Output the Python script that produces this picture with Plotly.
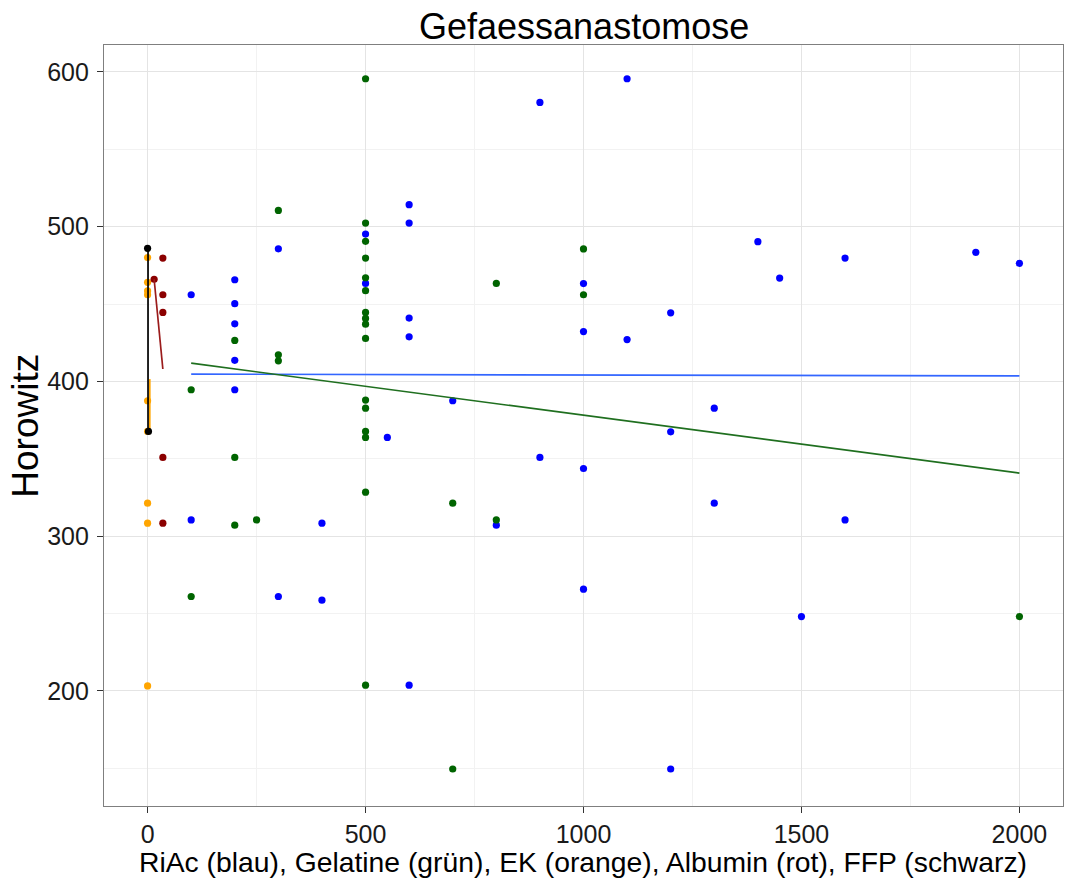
import plotly.graph_objects as go

# ---- data ----
riac_x = [100, 100, 200, 200, 200, 200, 200, 300, 300, 400, 400, 500, 500, 550,
          600, 600, 600, 600, 600, 700, 800, 900, 900, 1000, 1000, 1000, 1000,
          1100, 1100, 1200, 1200, 1200, 1300, 1300, 1400, 1450, 1500, 1600, 1600,
          1900, 2000]
riac_y = [456, 310.5, 465.7, 450.2, 437.2, 413.6, 394.6, 485.7, 261, 308.4, 258.6,
          495.2, 463.3, 363.8, 514.2, 502.3, 440.9, 428.8, 203.7, 387.5, 307.1,
          580.3, 350.9, 463.2, 432.2, 343.7, 265.7, 595.6, 427, 444.3, 367.4, 149.5,
          382.7, 321.3, 490.3, 466.8, 248, 479.7, 310.5, 483.4, 476.3]

gel_x = [100, 100, 200, 200, 200, 250, 300, 300, 300,
         500, 500, 500, 500, 500, 500, 500, 500, 500, 500, 500, 500, 500, 500, 500, 500,
         700, 700, 800, 800, 1000, 1000, 2000]
gel_y = [394.6, 261, 426.5, 350.9, 307.1, 310.5, 510.5, 417.2, 413.3,
         595.6, 502.3, 490.5, 479.7, 467, 458.6, 444.6, 440.7, 437, 427.8, 387.9,
         382.7, 367.7, 363.8, 328.4, 203.7,
         321.3, 149.5, 463.3, 310.5, 485.6, 456, 248]

ek_x = [0, 0, 0, 0, 0, 0, 0, 0, 0]
ek_y = [480, 464, 458.5, 456, 387.5, 367.7, 321.3, 308.4, 203.2]

alb_x = [15, 35, 35, 35, 35, 35]
alb_y = [466, 479.7, 456, 444.6, 350.9, 308.4]

ffp_x = [0, 2]
ffp_y = [486, 367.7]

# linear-fit lines (geom_smooth, method = lm)
riac_fit_x = [100, 2000]
riac_fit_y = [404.7, 403.6]
gel_fit_x = [100, 2000]
gel_fit_y = [411.8, 340.7]
ek_fit_x = [5, 5]
ek_fit_y = [401.5, 367.7]
alb_fit_x = [15, 35]
alb_fit_y = [466, 408]
ffp_fit_x = [1, 1]
ffp_fit_y = [486, 367.7]

x_ticks = [0, 500, 1000, 1500, 2000]
y_ticks = [200, 300, 400, 500, 600]

title_text = "Gefaessanastomose"
x_title = "RiAc (blau), Gelatine (grün), EK (orange), Albumin (rot), FFP (schwarz)"
y_title = "Horowitz"

groups = [
    (riac_x, riac_y, riac_fit_x, riac_fit_y, "#0000FF", "#3366FF"),
    (gel_x, gel_y, gel_fit_x, gel_fit_y, "#006400", "#1F6F1F"),
    (ek_x, ek_y, ek_fit_x, ek_fit_y, "#FFA500", "#FFA500"),
    (alb_x, alb_y, alb_fit_x, alb_fit_y, "#8B0000", "#9B1C1C"),
    (ffp_x, ffp_y, ffp_fit_x, ffp_fit_y, "#000000", "#000000"),
]

FONT = "Arial, 'Liberation Sans', sans-serif"

fig = go.Figure()

for gx, gy, fx, fy, pcol, lcol in groups:
    fig.add_trace(go.Scatter(x=gx, y=gy, mode="markers",
                             marker=dict(color=pcol, size=7.2, line=dict(width=0)),
                             hoverinfo="skip"))
    fig.add_trace(go.Scatter(x=fx, y=fy, mode="lines",
                             line=dict(color=lcol, width=1.7),
                             hoverinfo="skip"))

axis_common = dict(
    showline=True, mirror=True, linecolor="#7F7F7F", linewidth=1.3,
    ticks="outside", ticklen=6, tickwidth=1.2, tickcolor="#333333",
    tickfont=dict(family=FONT, size=25, color="#1A1A1A"),
    showgrid=True, gridcolor="#E4E4E4", gridwidth=1.4,
    zeroline=False,
)

fig.update_xaxes(range=[-100, 2100], tickmode="array", tickvals=x_ticks,
                 ticktext=[str(v) for v in x_ticks],
                 minor=dict(dtick=250, tick0=0, showgrid=True,
                            gridcolor="#F2F2F2", gridwidth=1),
                 **axis_common)
fig.update_yaxes(range=[125.6, 617.4], tickmode="array", tickvals=y_ticks,
                 ticktext=[str(v) for v in y_ticks], ticklabelstandoff=3,
                 minor=dict(dtick=50, tick0=0, showgrid=True,
                            gridcolor="#F2F2F2", gridwidth=1),
                 **axis_common)

fig.update_layout(
    width=1065, height=883,
    margin=dict(l=104, r=2, t=45, b=77),
    plot_bgcolor="white", paper_bgcolor="white",
    showlegend=False,
    font=dict(family=FONT, color="#000000"),
    annotations=[
        dict(text=title_text, xref="paper", yref="paper", x=0.5, y=1.0237,
             xanchor="center", yanchor="middle", showarrow=False,
             font=dict(family=FONT, size=36, color="#000000")),
        dict(text=x_title, xref="paper", yref="paper", x=0.4995, y=-0.0736,
             xanchor="center", yanchor="middle", showarrow=False,
             font=dict(family=FONT, size=28.3, color="#000000")),
        dict(text=y_title, xref="paper", yref="paper", x=-0.0815, y=0.4995,
             xanchor="center", yanchor="middle", showarrow=False, textangle=-90,
             font=dict(family=FONT, size=37, color="#000000")),
    ],
)

fig.write_html("out.html")
